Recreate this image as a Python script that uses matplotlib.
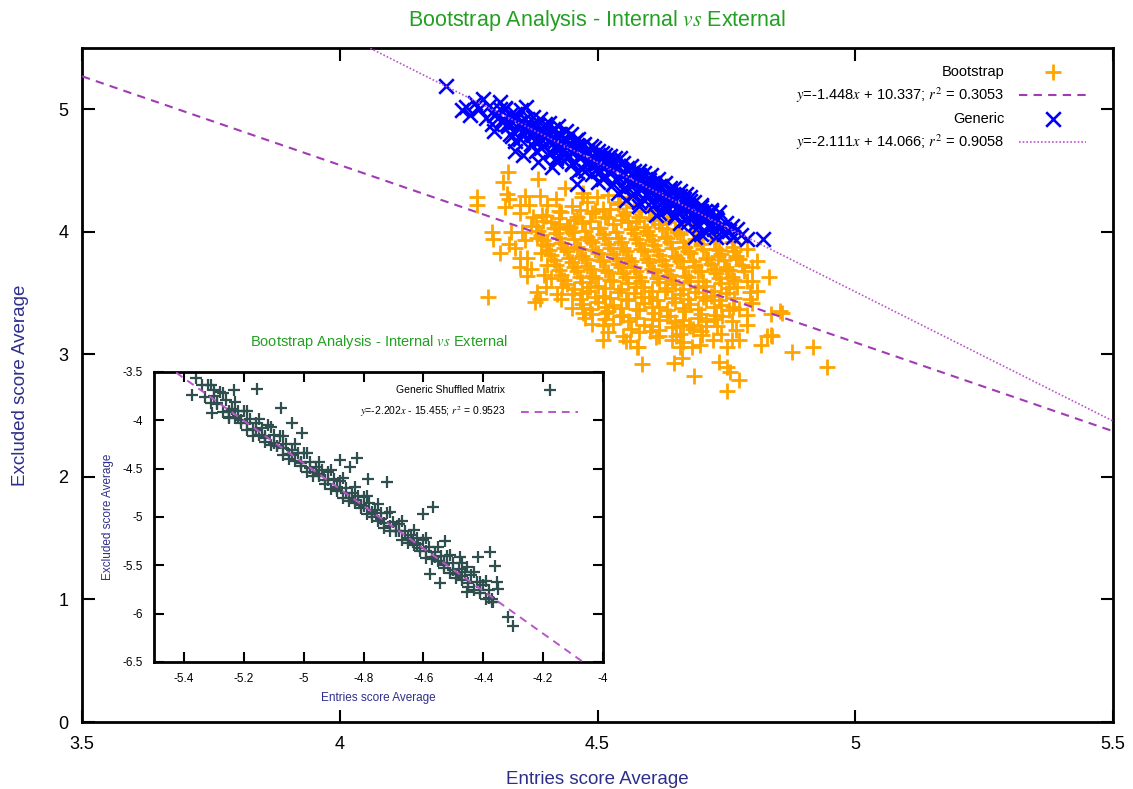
import matplotlib
matplotlib.use("Agg")
import matplotlib.pyplot as plt
from matplotlib.ticker import FuncFormatter

plt.rcParams['font.family'] = ['Liberation Sans', 'DejaVu Sans']
plt.rcParams['mathtext.fontset'] = 'stix'
plt.rcParams['axes.unicode_minus'] = False

# --- donnees ---
titre = r"Bootstrap Analysis - Internal $vs$ External"
label_x = "Entries score Average"
label_y = "Excluded score Average"

# droites de regression (coefficients de la legende)
boot_a, boot_b, boot_r2 = -1.448, 10.337, 0.3053
gen_a, gen_b, gen_r2 = -2.111, 14.066, 0.9058
shuf_a, shuf_b, shuf_r2 = -2.202, -15.455, 0.9523

main_xticks = [3.5, 4, 4.5, 5, 5.5]
main_yticks = [0, 1, 2, 3, 4, 5]
inset_xticks = [-5.4, -5.2, -5.0, -4.8, -4.6, -4.4, -4.2, -4.0]
inset_yticks = [-3.5, -4, -4.5, -5, -5.5, -6, -6.5]

# Bootstrap : points peripheriques
bootstrap_bord = [
    (4.326, 4.49), (4.316, 4.41), (4.384, 4.43), (4.267, 4.28), (4.267, 4.22), (4.324, 4.31),
    (4.329, 4.27), (4.359, 4.29), (4.388, 4.29), (4.436, 4.36), (4.471, 4.32), (4.498, 4.28),
    (4.320, 4.20), (4.368, 4.22), (4.401, 4.22), (4.295, 4.00), (4.297, 3.94), (4.333, 4.00),
    (4.329, 3.90), (4.353, 4.00), (4.310, 3.83), (4.349, 3.79), (4.364, 3.79), (4.349, 3.71),
    (4.364, 3.64), (4.401, 3.73), (4.397, 3.65), (4.374, 4.12), (4.393, 4.14), (4.426, 4.17),
    (4.426, 4.06), (4.446, 4.04), (4.382, 3.95), (4.401, 3.90), (4.287, 3.47), (4.382, 3.51),
    (4.388, 3.45), (4.421, 3.49), (4.432, 3.55), (4.378, 3.43), (4.471, 3.38), (4.471, 3.34),
    (4.475, 3.30), (4.510, 3.24), (4.510, 3.12), (4.562, 3.11), (4.578, 3.06), (4.587, 2.92),
    (4.517, 3.34), (4.543, 3.31), (4.601, 3.19), (4.833, 3.63), (4.800, 3.71), (4.769, 3.80),
    (4.762, 3.88), (4.752, 3.69), (4.789, 3.60), (4.795, 3.51), (4.795, 3.45), (4.853, 3.35),
    (4.837, 3.33), (4.837, 3.16), (4.829, 3.15), (4.878, 3.02), (4.917, 3.06), (4.946, 2.90),
    (4.818, 3.08), (4.775, 3.12), (4.752, 3.06), (4.760, 3.12), (4.789, 3.24), (4.769, 3.20),
    (4.649, 2.93), (4.663, 2.97), (4.688, 2.82), (4.736, 2.94), (4.752, 2.90), (4.756, 2.86),
    (4.775, 2.79), (4.752, 2.70), (4.620, 3.15), (4.653, 3.15), (4.665, 3.10), (4.684, 3.06),
    (4.698, 3.08), (4.723, 3.12), (4.703, 3.16), (4.665, 3.24), (4.678, 3.24), (4.711, 3.23),
    (4.731, 3.23), (4.742, 3.31), (4.775, 3.37), (4.762, 3.39), (4.556, 3.11), (4.576, 3.06),
    (4.614, 3.14), (4.645, 3.12), (4.659, 3.06), (4.733, 3.80), (4.769, 3.79), (4.543, 4.24),
    (4.857, 3.34), (4.839, 3.15),
    (4.35, 4.15), (4.37, 4.05), (4.36, 3.93), (4.34, 3.87), (4.39, 3.83), (4.37, 3.70),
    (4.41, 3.62), (4.40, 3.55), (4.43, 3.45), (4.45, 3.38), (4.35, 4.22), (4.42, 4.27),
    (4.47, 4.28), (4.52, 4.30), (4.56, 4.28), (4.60, 4.18), (4.64, 4.12), (4.68, 4.07),
    (4.72, 3.98), (4.76, 3.92), (4.79, 3.86), (4.81, 3.76), (4.80, 3.60), (4.81, 3.52),
    (4.80, 3.42), (4.79, 3.32), (4.76, 3.27), (4.74, 3.17), (4.52, 3.18), (4.49, 3.25),
    (4.47, 3.50), (4.55, 3.15),
]

# Bootstrap : coeur dense du nuage
bootstrap_coeur = [
    (4.45, 4.21), (4.48, 4.24), (4.51, 4.19), (4.54, 4.23), (4.57, 4.20),
    (4.465, 4.18), (4.495, 4.17), (4.525, 4.19), (4.555, 4.16), (4.585, 4.17),
    (4.40, 4.13), (4.43, 4.16), (4.46, 4.12), (4.49, 4.15), (4.52, 4.11), (4.55, 4.14),
    (4.58, 4.12), (4.61, 4.10),
    (4.395, 4.09), (4.425, 4.11), (4.455, 4.10), (4.485, 4.09), (4.515, 4.12), (4.545, 4.10),
    (4.575, 4.09), (4.605, 4.11), (4.635, 4.08),
    (4.38, 4.05), (4.41, 4.08), (4.44, 4.04), (4.47, 4.07), (4.50, 4.03), (4.53, 4.06),
    (4.56, 4.08), (4.59, 4.04), (4.62, 4.06), (4.65, 4.02),
    (4.385, 4.01), (4.415, 4.03), (4.445, 4.02), (4.475, 4.01), (4.505, 4.03), (4.535, 4.00),
    (4.565, 4.02), (4.595, 4.01), (4.625, 4.03), (4.655, 4.00), (4.685, 4.01),
    (4.39, 3.97), (4.42, 3.99), (4.45, 4.00), (4.48, 3.96), (4.51, 3.98), (4.54, 3.95),
    (4.57, 3.99), (4.60, 3.97), (4.63, 3.96), (4.66, 3.98), (4.69, 3.94),
    (4.395, 3.93), (4.425, 3.95), (4.455, 3.94), (4.485, 3.93), (4.515, 3.95), (4.545, 3.92),
    (4.575, 3.94), (4.605, 3.93), (4.635, 3.95), (4.665, 3.92), (4.695, 3.94), (4.725, 3.93),
    (4.40, 3.89), (4.43, 3.91), (4.46, 3.88), (4.49, 3.92), (4.52, 3.90), (4.55, 3.87),
    (4.58, 3.91), (4.61, 3.89), (4.64, 3.92), (4.67, 3.88), (4.70, 3.90), (4.73, 3.86),
    (4.405, 3.85), (4.435, 3.87), (4.465, 3.86), (4.495, 3.85), (4.525, 3.87), (4.555, 3.84),
    (4.585, 3.86), (4.615, 3.85), (4.645, 3.87), (4.675, 3.84), (4.705, 3.86), (4.735, 3.85),
    (4.765, 3.84),
    (4.41, 3.81), (4.44, 3.84), (4.47, 3.80), (4.50, 3.83), (4.53, 3.82), (4.56, 3.79),
    (4.59, 3.84), (4.62, 3.81), (4.65, 3.80), (4.68, 3.83), (4.71, 3.79), (4.74, 3.82),
    (4.415, 3.77), (4.445, 3.79), (4.475, 3.78), (4.505, 3.77), (4.535, 3.79), (4.565, 3.76),
    (4.595, 3.78), (4.625, 3.77), (4.655, 3.79), (4.685, 3.76), (4.715, 3.78), (4.745, 3.77),
    (4.775, 3.78),
    (4.42, 3.73), (4.45, 3.75), (4.48, 3.72), (4.51, 3.76), (4.54, 3.74), (4.57, 3.71),
    (4.60, 3.75), (4.63, 3.73), (4.66, 3.76), (4.69, 3.72), (4.72, 3.74), (4.75, 3.71),
    (4.78, 3.73),
    (4.425, 3.69), (4.455, 3.71), (4.485, 3.70), (4.515, 3.69), (4.545, 3.71), (4.575, 3.68),
    (4.605, 3.70), (4.635, 3.69), (4.665, 3.71), (4.695, 3.68), (4.725, 3.70), (4.755, 3.69),
    (4.785, 3.68),
    (4.43, 3.65), (4.46, 3.68), (4.49, 3.64), (4.52, 3.67), (4.55, 3.66), (4.58, 3.63),
    (4.61, 3.67), (4.64, 3.65), (4.67, 3.64), (4.70, 3.68), (4.73, 3.66), (4.76, 3.63),
    (4.435, 3.61), (4.465, 3.63), (4.495, 3.62), (4.525, 3.61), (4.555, 3.63), (4.585, 3.60),
    (4.615, 3.62), (4.645, 3.61), (4.675, 3.63), (4.705, 3.60), (4.735, 3.62), (4.765, 3.61),
    (4.44, 3.57), (4.47, 3.59), (4.50, 3.56), (4.53, 3.60), (4.56, 3.58), (4.59, 3.55),
    (4.62, 3.59), (4.65, 3.57), (4.68, 3.60), (4.71, 3.56), (4.74, 3.58), (4.77, 3.55),
    (4.455, 3.53), (4.485, 3.55), (4.515, 3.54), (4.545, 3.53), (4.575, 3.55), (4.605, 3.52),
    (4.635, 3.54), (4.665, 3.53), (4.695, 3.55), (4.725, 3.52), (4.755, 3.54),
    (4.45, 3.49), (4.48, 3.52), (4.51, 3.48), (4.54, 3.51), (4.57, 3.50), (4.60, 3.47),
    (4.63, 3.52), (4.66, 3.49), (4.69, 3.51), (4.72, 3.48), (4.75, 3.50),
    (4.465, 3.45), (4.495, 3.47), (4.525, 3.46), (4.555, 3.45), (4.585, 3.47), (4.615, 3.44),
    (4.645, 3.46), (4.675, 3.45), (4.705, 3.47), (4.735, 3.44), (4.765, 3.46),
    (4.47, 3.41), (4.50, 3.43), (4.53, 3.40), (4.56, 3.44), (4.59, 3.42), (4.62, 3.39),
    (4.65, 3.43), (4.68, 3.41), (4.71, 3.44), (4.74, 3.40),
    (4.485, 3.37), (4.515, 3.39), (4.545, 3.38), (4.575, 3.37), (4.605, 3.39), (4.635, 3.36),
    (4.665, 3.38), (4.695, 3.37), (4.725, 3.39), (4.755, 3.36),
    (4.49, 3.33), (4.52, 3.35), (4.55, 3.32), (4.58, 3.36), (4.61, 3.34), (4.64, 3.31),
    (4.67, 3.35), (4.70, 3.33), (4.73, 3.32),
    (4.515, 3.29), (4.545, 3.31), (4.575, 3.30), (4.605, 3.29), (4.635, 3.31), (4.665, 3.28),
    (4.695, 3.30), (4.725, 3.29),
    (4.53, 3.25), (4.56, 3.27), (4.59, 3.24), (4.62, 3.28), (4.65, 3.26), (4.68, 3.23),
    (4.71, 3.27),
    (4.565, 3.21), (4.605, 3.23), (4.645, 3.22), (4.685, 3.21),
    (4.58, 3.18), (4.62, 3.20), (4.66, 3.17), (4.70, 3.19),
]

# Generic
generic_pts = [
    (4.207, 5.19), (4.238, 4.99), (4.245, 5.02), (4.252, 4.95), (4.262, 5.05), (4.270, 5.00),
    (4.277, 5.08), (4.283, 4.93), (4.290, 5.03), (4.296, 4.88), (4.300, 4.82), (4.305, 4.97),
    (4.310, 5.06), (4.316, 4.92), (4.320, 5.01), (4.326, 4.86), (4.330, 4.95), (4.335, 4.78),
    (4.339, 4.66), (4.343, 4.93), (4.348, 4.89), (4.352, 4.99), (4.355, 4.63), (4.358, 4.84),
    (4.362, 5.02), (4.366, 4.90), (4.370, 4.80), (4.374, 4.94), (4.378, 4.74), (4.382, 4.86),
    (4.384, 4.57), (4.388, 4.92), (4.390, 4.82), (4.395, 4.70), (4.398, 4.88), (4.400, 4.77),
    (4.405, 4.89), (4.408, 4.65), (4.411, 4.53), (4.414, 4.84), (4.418, 4.74), (4.420, 4.60),
    (4.424, 4.86), (4.428, 4.80), (4.430, 4.69), (4.434, 4.76), (4.438, 4.82), (4.440, 4.62),
    (4.444, 4.72), (4.448, 4.80), (4.450, 4.56), (4.455, 4.67), (4.458, 4.75), (4.461, 4.39),
    (4.462, 4.76), (4.466, 4.62), (4.470, 4.70), (4.474, 4.72), (4.476, 4.50), (4.480, 4.65),
    (4.484, 4.58), (4.488, 4.70), (4.490, 4.62), (4.494, 4.68), (4.498, 4.52), (4.500, 4.66),
    (4.504, 4.60), (4.508, 4.64), (4.510, 4.45), (4.514, 4.63), (4.518, 4.55), (4.520, 4.60),
    (4.524, 4.62), (4.528, 4.50), (4.530, 4.58), (4.534, 4.60), (4.538, 4.42), (4.540, 4.53),
    (4.543, 4.60), (4.546, 4.48), (4.550, 4.56), (4.553, 4.35), (4.556, 4.26), (4.558, 4.52),
    (4.560, 4.44), (4.564, 4.54), (4.567, 4.40), (4.570, 4.50), (4.574, 4.33), (4.578, 4.46),
    (4.580, 4.50), (4.581, 4.21), (4.585, 4.42), (4.588, 4.36), (4.590, 4.48), (4.594, 4.30),
    (4.598, 4.44), (4.600, 4.38), (4.603, 4.46), (4.606, 4.25), (4.610, 4.40), (4.614, 4.14),
    (4.615, 4.33), (4.618, 4.43), (4.620, 4.28), (4.624, 4.37), (4.628, 4.22), (4.630, 4.40),
    (4.634, 4.31), (4.638, 4.19), (4.640, 4.36), (4.644, 4.26), (4.648, 4.36), (4.650, 4.12),
    (4.654, 4.30), (4.658, 4.22), (4.660, 4.33), (4.664, 4.17), (4.668, 4.27), (4.672, 4.31),
    (4.675, 4.08), (4.678, 4.21), (4.680, 4.28), (4.684, 4.14), (4.688, 4.24), (4.690, 3.96),
    (4.692, 4.18), (4.696, 4.05), (4.700, 4.22), (4.704, 4.11), (4.708, 4.17), (4.710, 4.00),
    (4.714, 4.13), (4.718, 4.06), (4.720, 4.18), (4.725, 4.02), (4.730, 3.96), (4.732, 4.10),
    (4.736, 4.16), (4.740, 4.04), (4.745, 3.98), (4.750, 4.07), (4.755, 4.01), (4.762, 3.96),
    (4.770, 4.02), (4.778, 3.97), (4.789, 3.94), (4.820, 3.94),
    (4.300, 4.95), (4.315, 4.90), (4.330, 4.88), (4.345, 4.85), (4.360, 4.83), (4.375, 4.79),
    (4.390, 4.76), (4.405, 4.73), (4.420, 4.70), (4.435, 4.67), (4.450, 4.64), (4.465, 4.60),
    (4.480, 4.57), (4.495, 4.55), (4.510, 4.52), (4.525, 4.48), (4.540, 4.45), (4.555, 4.42),
    (4.570, 4.39), (4.585, 4.36), (4.600, 4.33), (4.615, 4.30), (4.630, 4.27), (4.645, 4.24),
    (4.660, 4.20), (4.675, 4.17), (4.690, 4.14), (4.705, 4.10), (4.720, 4.07), (4.735, 4.04),
    (4.320, 5.00), (4.340, 4.96), (4.360, 4.92), (4.380, 4.88), (4.400, 4.84), (4.420, 4.79),
    (4.440, 4.75), (4.460, 4.71), (4.480, 4.67), (4.500, 4.63), (4.520, 4.58), (4.540, 4.54),
    (4.560, 4.50), (4.580, 4.46), (4.600, 4.42), (4.620, 4.37), (4.640, 4.33), (4.660, 4.29),
    (4.680, 4.25), (4.700, 4.20), (4.720, 4.16),
    (4.330, 4.80), (4.350, 4.76), (4.370, 4.72), (4.390, 4.68), (4.410, 4.64), (4.430, 4.60),
    (4.450, 4.55), (4.470, 4.51), (4.490, 4.47), (4.510, 4.43), (4.530, 4.39), (4.550, 4.35),
    (4.570, 4.31), (4.590, 4.26), (4.610, 4.22), (4.630, 4.18), (4.650, 4.14), (4.670, 4.10),
    (4.690, 4.06),
    (4.310, 5.00), (4.340, 4.93), (4.370, 4.87), (4.400, 4.81), (4.430, 4.74), (4.460, 4.68),
    (4.490, 4.62), (4.520, 4.55), (4.550, 4.49), (4.580, 4.43), (4.610, 4.36), (4.640, 4.30),
    (4.670, 4.24), (4.700, 4.17), (4.730, 4.11), (4.760, 4.05),
    (4.325, 4.88), (4.355, 4.81), (4.385, 4.75), (4.415, 4.69), (4.445, 4.62), (4.475, 4.56),
    (4.505, 4.50), (4.535, 4.43), (4.565, 4.37), (4.595, 4.31), (4.625, 4.24), (4.655, 4.18),
    (4.685, 4.12), (4.715, 4.05), (4.745, 3.99),
    (4.340, 4.74), (4.380, 4.66), (4.420, 4.58), (4.460, 4.49), (4.500, 4.41), (4.540, 4.32),
    (4.580, 4.24), (4.620, 4.15), (4.660, 4.07), (4.700, 3.98),
]

# Generic Shuffled Matrix (encart)
shuffled_pts = [
    (-5.34, -3.64), (-5.33, -3.76), (-5.32, -3.64), (-5.31, -3.82), (-5.30, -3.75), (-5.29, -3.82),
    (-5.28, -3.71), (-5.27, -3.91), (-5.26, -3.79), (-5.25, -3.98), (-5.24, -3.88), (-5.23, -3.98),
    (-5.22, -3.90), (-5.21, -4.03), (-5.20, -3.90), (-5.19, -4.10), (-5.18, -3.99), (-5.17, -4.16),
    (-5.16, -4.03), (-5.15, -4.15), (-5.14, -4.08), (-5.13, -4.22), (-5.12, -4.05), (-5.11, -4.26),
    (-5.10, -4.15), (-5.09, -4.27), (-5.08, -4.16), (-5.07, -4.36), (-5.06, -4.25), (-5.05, -4.40),
    (-5.04, -4.31), (-5.03, -4.42), (-5.02, -4.34), (-5.01, -4.47), (-5.00, -4.34), (-4.99, -4.53),
    (-4.98, -4.43), (-4.97, -4.58), (-4.96, -4.48), (-4.95, -4.58), (-4.94, -4.51), (-4.93, -4.66),
    (-4.92, -4.53), (-4.91, -4.71), (-4.90, -4.61), (-4.89, -4.73), (-4.88, -4.63), (-4.87, -4.80),
    (-4.86, -4.70), (-4.85, -4.83), (-4.84, -4.75), (-4.83, -4.86), (-4.82, -4.78), (-4.81, -4.91),
    (-4.80, -4.79), (-4.79, -4.97), (-4.78, -4.86), (-4.77, -5.00), (-4.76, -4.93), (-4.75, -5.04),
    (-4.74, -4.96), (-4.73, -5.11), (-4.72, -4.96), (-4.71, -5.15), (-4.70, -5.05), (-4.69, -5.15),
    (-4.68, -5.07), (-4.67, -5.24), (-4.66, -5.15), (-4.65, -5.27), (-4.64, -5.19), (-4.63, -5.29),
    (-4.62, -5.22), (-4.61, -5.35), (-4.60, -5.24), (-4.59, -5.42), (-4.58, -5.31), (-4.57, -5.44),
    (-4.56, -5.36), (-4.55, -5.46), (-4.54, -5.40), (-4.53, -5.53), (-4.52, -5.40), (-4.51, -5.58),
    (-4.50, -5.48), (-4.49, -5.63), (-4.48, -5.54), (-4.47, -5.65), (-4.46, -5.57), (-4.45, -5.72),
    (-4.44, -5.60), (-4.43, -5.76), (-4.42, -5.67), (-4.41, -5.79), (-4.40, -5.70), (-4.39, -5.85),
    (-4.38, -5.76), (-4.37, -5.88),
    (-5.25, -3.90), (-5.22, -3.96), (-5.19, -4.03), (-5.16, -4.10), (-5.13, -4.16), (-5.10, -4.23),
    (-5.07, -4.29), (-5.04, -4.36), (-5.01, -4.43), (-4.98, -4.49), (-4.95, -4.56), (-4.92, -4.62),
    (-4.89, -4.69), (-4.86, -4.75), (-4.83, -4.82), (-4.80, -4.89), (-4.77, -4.95), (-4.74, -5.02),
    (-4.71, -5.09), (-4.68, -5.15), (-4.65, -5.22), (-4.62, -5.28), (-4.59, -5.35), (-4.56, -5.41),
    (-4.53, -5.48), (-4.50, -5.55), (-4.47, -5.61),
    (-5.31, -3.63), (-5.27, -3.72), (-5.23, -3.81), (-5.19, -3.90), (-5.15, -3.99), (-5.11, -4.07),
    (-5.07, -4.16), (-5.03, -4.25), (-4.99, -4.34), (-4.95, -4.43), (-4.91, -4.51), (-4.87, -4.60),
    (-4.83, -4.69), (-4.79, -4.78), (-4.75, -4.87), (-4.71, -4.95), (-4.67, -5.04), (-4.63, -5.13),
    (-4.59, -5.22), (-4.55, -5.31), (-4.51, -5.39), (-4.47, -5.48), (-4.43, -5.57), (-4.39, -5.66),
    (-4.35, -5.75),
    (-5.29, -3.83), (-5.25, -3.91), (-5.21, -4.00), (-5.17, -4.09), (-5.13, -4.18), (-5.09, -4.27),
    (-5.05, -4.35), (-5.01, -4.44), (-4.97, -4.53), (-4.93, -4.62), (-4.89, -4.71), (-4.85, -4.80),
    (-4.81, -4.88), (-4.77, -4.97), (-4.73, -5.06), (-4.69, -5.15), (-4.65, -5.24), (-4.61, -5.32),
    (-4.57, -5.41), (-4.53, -5.50), (-4.49, -5.59), (-4.45, -5.68), (-4.41, -5.76), (-4.37, -5.85),
    (-5.360, -3.56), (-5.373, -3.74), (-5.299, -3.69), (-5.232, -3.69), (-5.155, -3.68),
    (-5.306, -3.92), (-5.249, -3.97), (-5.074, -3.87), (-5.038, -4.03), (-5.004, -4.13),
    (-4.880, -4.41), (-4.823, -4.39), (-4.846, -4.48), (-4.786, -4.61), (-4.722, -4.64),
    (-4.568, -4.90), (-4.601, -4.97), (-4.528, -5.25), (-4.377, -5.36), (-4.417, -5.41),
    (-4.360, -5.51), (-4.353, -5.67), (-4.410, -5.67), (-4.316, -6.04), (-4.299, -6.13),
    (-4.477, -5.41), (-4.454, -5.52), (-4.454, -5.78), (-4.366, -5.88), (-4.380, -5.84),
    (-4.578, -5.59), (-4.544, -5.68), (-4.635, -5.26),
]

boot_x = [p[0] for p in bootstrap_bord + bootstrap_coeur]
boot_y = [p[1] for p in bootstrap_bord + bootstrap_coeur]
gen_x = [p[0] for p in generic_pts]
gen_y = [p[1] for p in generic_pts]
shuf_x = [p[0] for p in shuffled_pts]
shuf_y = [p[1] for p in shuffled_pts]

c_titre = "#22a022"
c_label = "#2e2e8c"
c_orange = "#ffa500"
c_bleu = "#0000ff"
c_violet = "#a33ab5"
c_violet_clair = "#bb55cc"
c_gris = "#2f4f4f"

fmt = FuncFormatter(lambda v, p: "%g" % v)

fig = plt.figure(figsize=(11.33, 7.89), dpi=100)
ax = fig.add_axes([0.0724, 0.0849, 0.9100, 0.8543])

ax.scatter(boot_x, boot_y, marker="+", s=120, linewidths=2.0, color=c_orange, label="Bootstrap", zorder=2)
xs = [3.5, 5.5]
ax.plot(xs, [boot_a * v + boot_b for v in xs], color=c_violet, lw=1.5, ls=(0, (4, 3)),
        label=r"$y$=%.3f$x$ + %.3f; $r^2$ = %.4f" % (boot_a, boot_b, boot_r2), zorder=3)
ax.scatter(gen_x, gen_y, marker="x", s=110, linewidths=1.9, color=c_bleu, label="Generic", zorder=4)
ax.plot(xs, [gen_a * v + gen_b for v in xs], color=c_violet_clair, lw=1.2, ls=(0, (1, 1.2)),
        label=r"$y$=%.3f$x$ + %.3f; $r^2$ = %.4f" % (gen_a, gen_b, gen_r2), zorder=5)

ax.set_xlim(3.5, 5.5)
ax.set_ylim(0, 5.5)
ax.set_xticks(main_xticks)
ax.set_yticks(main_yticks)
ax.xaxis.set_major_formatter(fmt)
ax.yaxis.set_major_formatter(fmt)
ax.tick_params(direction="in", length=9, width=1.5, top=True, right=True, labelsize=13, pad=10)
for s in ax.spines.values():
    s.set_linewidth(2)
ax.set_title(titre, color=c_titre, fontsize=15.5, pad=16)
ax.set_xlabel(label_x, color=c_label, fontsize=13.5, labelpad=13)
ax.set_ylabel(label_y, color=c_label, fontsize=13.5, labelpad=21)

leg = ax.legend(loc="upper right", bbox_to_anchor=(0.974, 0.975), frameon=False, markerfirst=False,
                fontsize=10.5, handlelength=4.6, handletextpad=1.0, labelspacing=0.45,
                borderpad=0, borderaxespad=0)

# encart
ins = fig.add_axes([0.1359, 0.1610, 0.3963, 0.3676])
ins.scatter(shuf_x, shuf_y, marker="+", s=70, linewidths=1.6, color=c_gris,
            label="Generic Shuffled Matrix", zorder=2)
xi = [-5.5, -4.0]
ins.plot(xi, [shuf_a * v + shuf_b for v in xi], color=c_violet_clair, lw=1.4, ls=(0, (4, 3)),
         label=r"$y$=%.3f$x$ - %.3f; $r^2$ = %.4f" % (shuf_a, -shuf_b, shuf_r2), zorder=3)
ins.set_xlim(-5.5, -4.0)
ins.set_ylim(-6.5, -3.5)
ins.set_xticks(inset_xticks)
ins.set_yticks(inset_yticks)
ins.xaxis.set_major_formatter(fmt)
ins.yaxis.set_major_formatter(fmt)
ins.tick_params(direction="in", length=7, width=1.5, top=True, right=True, labelsize=8.5, pad=8)
for s in ins.spines.values():
    s.set_linewidth(2)
ins.set_title(titre, color=c_titre, fontsize=10.5, pad=19)
ins.set_xlabel(label_x, color=c_label, fontsize=8.5, labelpad=5)
ins.set_ylabel(label_y, color=c_label, fontsize=8.5, labelpad=6)
ins.legend(loc="upper right", bbox_to_anchor=(0.945, 0.955), frameon=False, markerfirst=False,
           fontsize=7.5, handlelength=5.5, handletextpad=1.5, labelspacing=0.9,
           borderpad=0, borderaxespad=0)

fig.savefig("out.png", dpi=100)
